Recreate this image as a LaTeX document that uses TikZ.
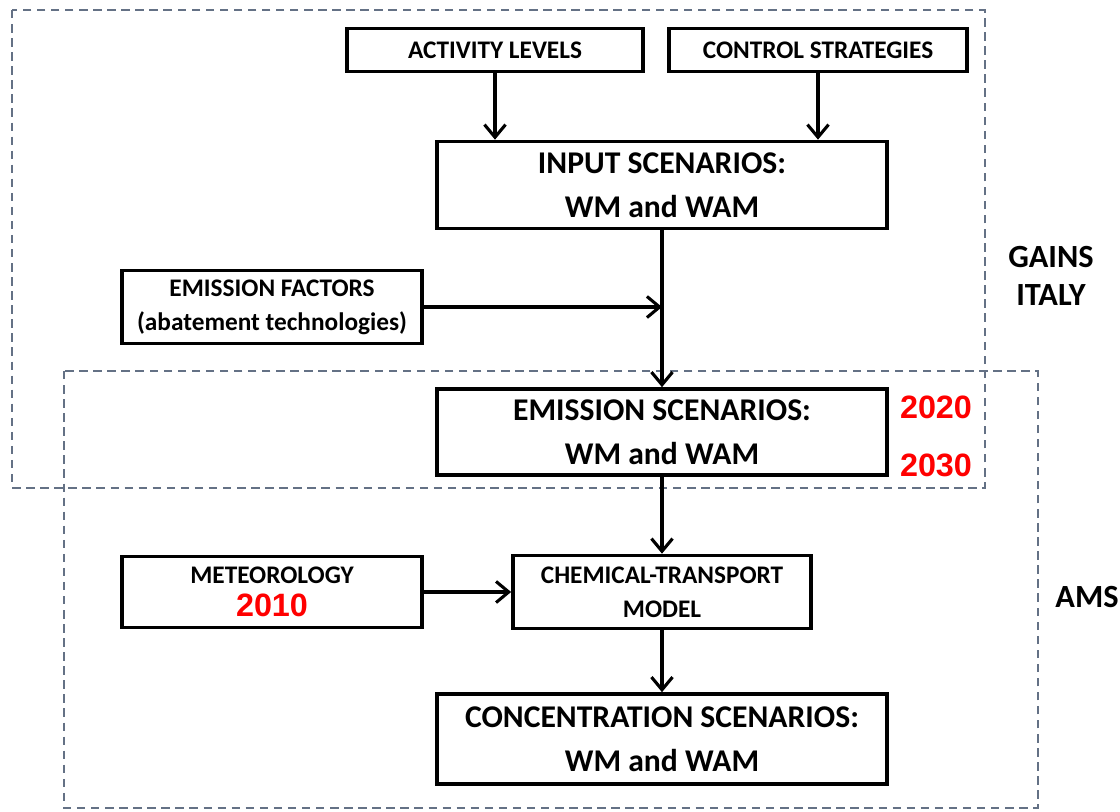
\documentclass[tikz,border=0pt]{standalone}
\usepackage{fontspec}
\setmainfont{Carlito}
\newfontfamily\arialfont{Liberation Sans}
\usetikzlibrary{arrows.meta}
\definecolor{framegray}{RGB}{100,113,133}
\definecolor{yearred}{RGB}{255,0,0}
\newcommand{\yr}[1]{{\arialfont\bfseries\color{yearred}\fontsize{23}{26}\selectfont #1}}

\begin{document}
\begin{tikzpicture}
  [x=0.025cm,y=-0.025cm,
   box/.style={draw,line width=2.6pt,align=center,inner sep=0pt},
   smallbox/.style={box,font=\bfseries\fontsize{18}{24}\selectfont},
   bigbox/.style={box,minimum width=11.25cm,font=\bfseries\fontsize{22.5}{31}\selectfont},
   frame/.style={draw=framegray,line width=1.6pt,dash pattern=on 6pt off 4pt},
   side/.style={align=center,font=\bfseries\fontsize{23}{27}\selectfont},
   flow/.style={-{Straight Barb[length=9pt,width=15pt]},line width=2.2pt}]
  \useasboundingbox (0,0) rectangle (1120,811);

  % groups
  \draw[frame] (12,10) rectangle (985,488);
  \draw[frame] (64,371) rectangle (1038,808);
  \node[side] (gains) at (1051,276) {GAINS\\ITALY};
  \node[side] (ams) at (1087,597) {AMS};

  % boxes
  \node[smallbox,minimum width=7.4cm,minimum height=1.075cm] (act) at (495,50) {ACTIVITY LEVELS};
  \node[smallbox,minimum width=7.45cm,minimum height=1.075cm] (ctl) at (818,50) {CONTROL STRATEGIES};
  \node[bigbox,minimum height=2.175cm] (inp) at (662,185) {INPUT SCENARIOS:\\WM and WAM};
  \node[smallbox,minimum width=7.5cm,minimum height=1.825cm] (ef) at (272,307) {EMISSION FACTORS\\(abatement technologies)};
  \node[bigbox,minimum height=2.15cm] (ems) at (662,432) {EMISSION SCENARIOS:\\WM and WAM};
  \node[smallbox,minimum width=7.5cm,minimum height=1.775cm] (met) at (272,592) {METEOROLOGY\\[-1pt]\yr{2010}};
  \node[smallbox,minimum width=7.45cm,minimum height=1.825cm] (ctm) at (662,592) {CHEMICAL-TRANSPORT\\MODEL};
  \node[bigbox,minimum height=2.25cm] (conc) at (662,739) {CONCENTRATION SCENARIOS:\\WM and WAM};

  % years
  \node (y20) at (936,407) {\yr{2020}};
  \node (y30) at (936,465) {\yr{2030}};

  \draw[flow] (act.south) -- (act.south |- inp.north);
  \draw[flow] (ctl.south) -- (ctl.south |- inp.north);
  \draw[flow] (inp.south) -- (ems.north);
  \draw[flow] (ef.east) -- (ef.east -| inp.south);
  \draw[flow] (ems.south) -- (ctm.north);
  \draw[flow] (met.east) -- (ctm.west);
  \draw[flow] (ctm.south) -- (conc.north);
\end{tikzpicture}
\end{document}
